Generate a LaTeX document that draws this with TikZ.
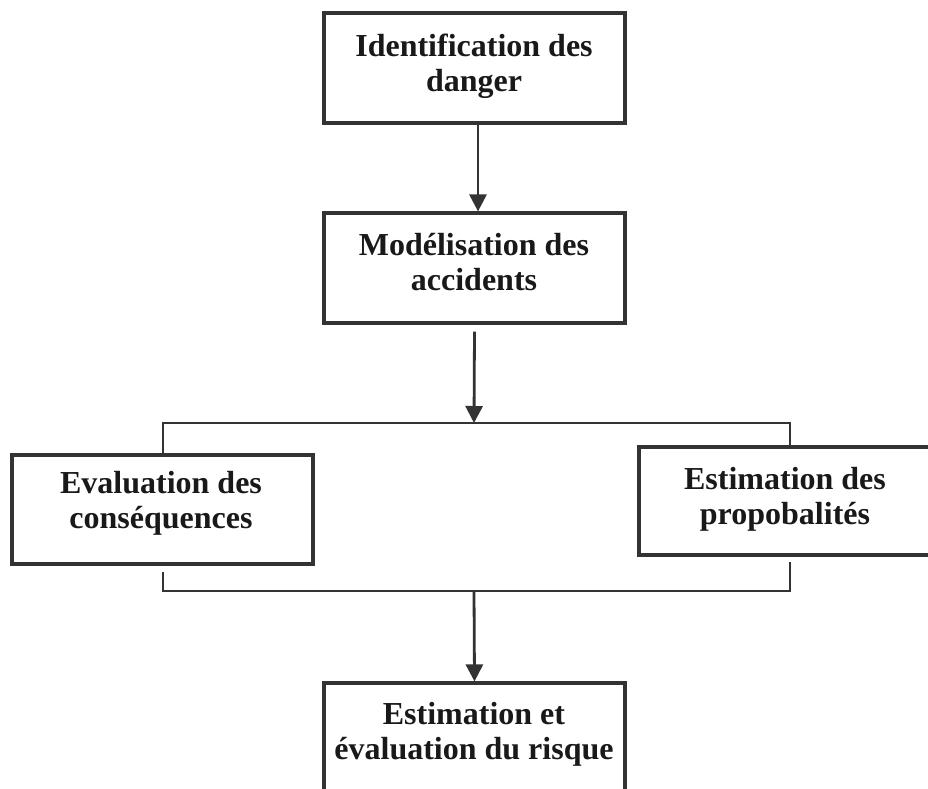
\documentclass[tikz,border=0pt]{standalone}
\usepackage{fontspec}
\setmainfont{Liberation Serif}
\usetikzlibrary{arrows.meta,calc}
\begin{document}
\begin{tikzpicture}[x=1pt,y=-1pt,
  box/.style={draw=black!80,line width=3.2pt,minimum width=301pt,minimum height=110pt,inner sep=0pt},
  lbl/.style={anchor=base,align=center,font=\bfseries\fontsize{32}{35}\selectfont,text=black!90,inner sep=0pt},
  link/.style={draw=black!80,line width=2.8pt},
  arr/.style={link,-{Triangle[width=17pt,length=17pt]}}]
\clip (0,0) rectangle (928,788);
\fill[white] (0,0) rectangle (928,788);

% boxes
\node[box] (b1) at (474.5,68) {};
\node[box] (b2) at (474.5,268) {};
\node[box,minimum height=109pt] (ev) at (162.5,509.5) {};
\node[box,minimum width=292pt,minimum height=108pt] (pr) at (785,501) {};
\node[box,minimum height=114pt] (risk) at (474.5,740) {};

% labels (anchored on the baseline of their last line)
\node[lbl] (t1) at (474,91) {Identification des\\danger};
\node[lbl] (t2) at (474,290) {Modélisation des\\accidents};
\node[lbl] (t3) at (161,528) {Evaluation des\\conséquences};
\node[lbl] (t4) at (785,524) {Estimation des\\propobalités};
\node[lbl] (t5) at (474,759) {Estimation et\\évaluation du risque};

% junction points of the two brackets
\coordinate (tl) at (163,423);
\coordinate (tr) at (790,423);
\coordinate (tj) at (474,423);
\coordinate (bl) at (163,591);
\coordinate (br) at (790,591);
\coordinate (bj) at (474,591);

% connectors
\draw[arr] ([xshift=3.5pt]b1.south) -- ([xshift=3.5pt]b2.north);
\draw[arr] ([yshift=-7pt]b2.south) -- (tj);
\draw[link] (ev.north -| tl) -- (tl) -- (tr) -- (pr.north -| tr);
\draw[link] ([yshift=-6pt]ev.south -| bl) -- (bl) -- (br) -- ([yshift=-5pt]pr.south -| br);
\draw[arr] (bj) -- (risk.north);
\end{tikzpicture}
\end{document}
